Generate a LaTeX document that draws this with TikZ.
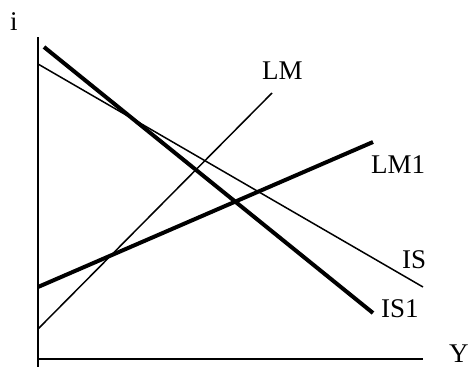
\documentclass[tikz,border=0pt]{standalone}
\usepackage{fontspec}
\setmainfont{Liberation Serif}
\begin{document}
\begin{tikzpicture}[x=1pt,y=-1pt,
  thinline/.style={line width=1.5pt},
  thickline/.style={line width=4pt},
  lbl/.style={anchor=base west,inner sep=0pt,font=\fontsize{27}{32}\selectfont}]
\useasboundingbox (0,0) rectangle (469,367);
% axes
\coordinate (ytop) at (38,37);
\coordinate (ybot) at (38,367);
\coordinate (xl) at (37,359);
\coordinate (xr) at (423,359);
\draw[thinline] (ytop) -- (ybot);
\draw[thinline] (xl) -- (xr);
% curves
\coordinate (is0) at (38,64);
\coordinate (is1) at (423,287);
\coordinate (isb0) at (44,47);
\coordinate (isb1) at (373,313);
\coordinate (lm0) at (38,329);
\coordinate (lm1) at (272,93);
\coordinate (lmb0) at (38,287);
\coordinate (lmb1) at (373,142);
\draw[thinline] (is0) -- (is1);
\draw[thickline] (isb0) -- (isb1);
\draw[thinline] (lm0) -- (lm1);
\draw[thickline] (lmb0) -- (lmb1);
% labels
\node[lbl] (li) at (10,30) {i};
\node[lbl] (lY) at (449,362) {Y};
\node[lbl] (lLM) at (262,79) {LM};
\node[lbl] (lLM1) at (371,173) {LM1};
\node[lbl] (lIS) at (402,268) {IS};
\node[lbl] (lIS1) at (381,317) {IS1};
\end{tikzpicture}
\end{document}
